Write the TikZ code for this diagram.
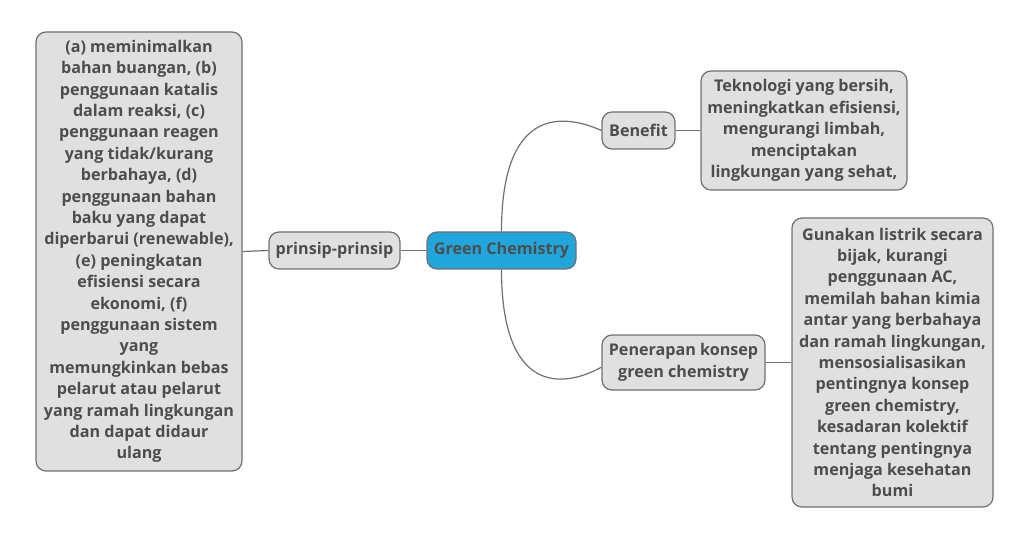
\documentclass[tikz,border=0pt]{standalone}
\usepackage{fontspec}
\setmainfont{Open Sans}
\usepackage{tikz}
\usetikzlibrary{positioning}
\definecolor{inktext}{RGB}{77,77,77}
\definecolor{boxfill}{RGB}{224,224,224}
\definecolor{boxline}{RGB}{112,112,112}
\definecolor{rootfill}{RGB}{33,166,220}

\begin{document}
\begin{tikzpicture}[
  x=0.75pt, y=-0.75pt,
  font=\fontsize{12.1}{16.05}\selectfont\bfseries,
  every node/.style={inner sep=0pt, text=inktext, align=center},
  topic/.style={draw=boxline, fill=boxfill, line width=0.9pt,
    rounded corners=7.5pt, inner xsep=3pt},
  root/.style={topic, fill=rootfill},
  link/.style={draw=boxline, line width=0.9pt}
]
  \useasboundingbox (0,0) rectangle (1030,541);
  % pusat dan cabang
  \node[root, minimum width=149*0.75pt, minimum height=37*0.75pt]
    (green) at (501.5,250.5) {Green Chemistry};
  \node[topic, minimum width=131*0.75pt, minimum height=37*0.75pt]
    (prinsip) at (334.5,250.5) {prinsip-prinsip};
  \node[topic, minimum width=73*0.75pt, minimum height=37*0.75pt]
    (benefit) at (638.5,130.5) {Benefit};
  \node[topic, minimum width=163*0.75pt, minimum height=55*0.75pt]
    (terap) at (683.5,362.5) {Penerapan konsep\\green chemistry};
  % daun
  \node[topic, minimum width=206*0.75pt, minimum height=439*0.75pt]
    (prinsipisi) at (139,251.5) {(a) meminimalkan\\bahan buangan, (b)\\penggunaan katalis\\dalam reaksi, (c)\\penggunaan reagen\\yang tidak/kurang\\berbahaya, (d)\\penggunaan bahan\\baku yang dapat\\diperbarui (renewable),\\(e) peningkatan\\efisiensi secara\\ekonomi, (f)\\penggunaan sistem\\yang\\memungkinkan bebas\\pelarut atau pelarut\\yang ramah lingkungan\\dan dapat didaur\\ulang};
  \node[topic, minimum width=206*0.75pt, minimum height=119*0.75pt]
    (benefitisi) at (804,130.5) {Teknologi yang bersih,\\meningkatkan efisiensi,\\mengurangi limbah,\\menciptakan\\lingkungan yang sehat,};
  \node[topic, minimum width=201*0.75pt, minimum height=289*0.75pt, inner xsep=1pt]
    (terapisi) at (892.5,362.5) {Gunakan listrik secara\\bijak, kurangi\\penggunaan AC,\\memilah bahan kimia\\antar yang berbahaya\\dan ramah lingkungan,\\mensosialisasikan\\pentingnya konsep\\green chemistry,\\kesadaran kolektif\\tentang pentingnya\\menjaga kesehatan\\bumi};
  % garis
  \draw[link] (prinsipisi.east) -- (prinsip.west);
  \draw[link] (prinsip.east) -- (green.west);
  \draw[link] (benefit.east) -- (benefitisi.west);
  \draw[link] (terap.east) -- (terapisi.west);
  \draw[link] (green.north) .. controls (501.5,110) and (560,112) .. (benefit.west);
  \draw[link] (green.south) .. controls (501.5,391) and (560,390) .. ([yshift=-3.5pt]terap.west);
\end{tikzpicture}
\end{document}
